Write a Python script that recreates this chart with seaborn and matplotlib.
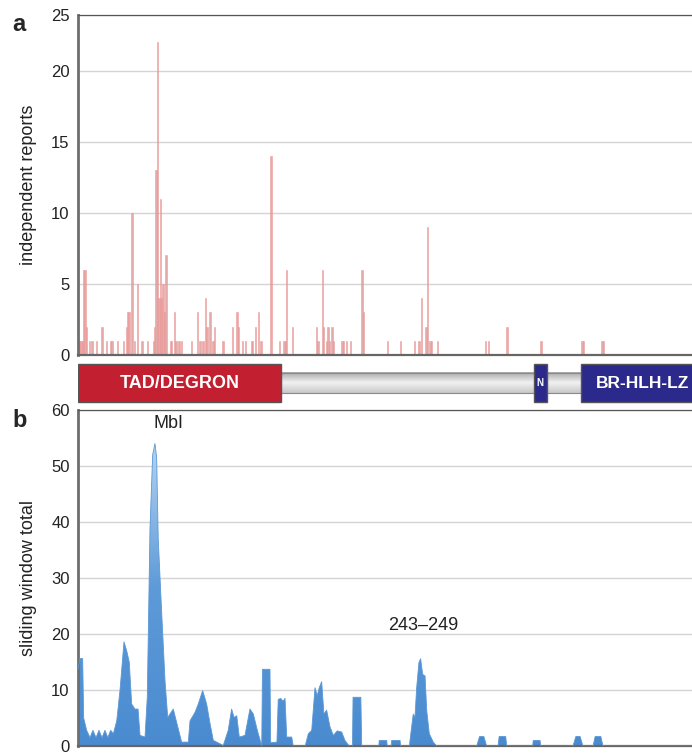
import numpy as np
import pandas as pd
import matplotlib
matplotlib.use("Agg")
import matplotlib.pyplot as plt
import seaborn as sns
from matplotlib.patches import Rectangle, Polygon
from matplotlib.colors import LinearSegmentedColormap

# -------- SETTINGS --------
sns.set_theme(style="white")
plt.rcParams["font.family"] = ["Liberation Sans", "DejaVu Sans"]

# -------- DATA --------
# panel a: independent reports per residue
residues = [1, 2, 3, 4, 5, 6, 8, 10, 13, 17, 20, 23, 24, 28, 32, 34, 35, 36, 38, 40,
            42, 45, 49, 53, 54, 55, 56, 57, 58, 59, 60, 61, 62, 65, 66, 68, 69, 71, 73, 80,
            84, 86, 88, 90, 91, 93, 95, 96, 102, 109, 112, 113, 116, 118, 122, 123, 125, 127, 129, 136,
            142, 145, 146, 147, 151, 168, 169, 172, 173, 175, 176, 177, 179, 180, 186, 187, 189, 192, 200, 201,
            218, 227, 237, 240, 242, 245, 246, 248, 249, 253, 287, 289, 302, 326, 355, 356, 369, 370]
reports = [1, 1, 1, 6, 6, 2, 1, 1, 1, 2, 1, 1, 1, 1, 1, 2, 3, 3, 10, 1,
           5, 1, 1, 1, 2, 13, 22, 4, 11, 4, 5, 3, 7, 1, 1, 3, 1, 1, 1, 1,
           3, 1, 1, 4, 2, 3, 1, 2, 1, 2, 3, 2, 1, 1, 1, 1, 2, 3, 1, 14,
           1, 1, 1, 6, 2, 2, 1, 6, 2, 1, 2, 1, 2, 1, 1, 1, 1, 1, 6, 3,
           1, 1, 1, 1, 4, 2, 9, 1, 1, 1, 1, 1, 2, 1, 1, 1, 1, 1]
ticks_a = [0, 5, 10, 15, 20, 23.9]
tick_labels_a = ["0", "5", "10", "15", "20", "25"]

# panel b: sliding window total (traced outline)
window_pos = [0, 1.4, 3.3, 4, 6.1, 8.5, 10.5, 12.7, 14.8, 16.9, 19, 21, 23, 24.9, 27.3, 29.6,
              32.4, 34.3, 36.1, 37.8, 40.1, 42.3, 43.7, 47.2, 48.8, 50.7, 52.6, 54.2, 55.4, 56.5,
              58.9, 61.3, 63.2, 67.1, 69.5, 73, 77.7, 78.9, 82.4, 84.7, 87.8, 90.6, 93, 95.3,
              102.3, 105.8, 108.2, 109.9, 111.8, 113.6, 117.6, 121.1, 123.5, 126.3, 129.4, 129.9,
              130.5, 135.2, 135.7, 140.1, 141, 142.7, 144.4, 145.8, 147, 150.5, 151.6, 160,
              162.2, 164.6, 166.9, 168.5, 169.9, 171.6, 173.2, 175.1, 177.5, 179.8, 182.6, 185.7,
              188, 191, 193.3, 193.7, 198.6, 199.2, 199.8, 211.8, 212.2, 217.4, 217.8, 220.5,
              220.9, 226.8, 227.2, 233.4, 233.8, 236.1, 237.3, 238.5, 240.1, 241.3, 242.7, 244.4,
              245.6, 247.4, 250.2, 252.6, 280.8, 282.8, 285.8, 287.8, 295.8, 296.6, 301.2, 301.9,
              320.2, 320.6, 325.4, 325.8, 348.6, 350.6, 353.6, 355.6, 362.7, 364.2, 368.2, 369.7, 440]
window_total = [13.7, 15.6, 15.6, 5, 2.8, 1.5, 2.8, 1.5, 2.8, 1.5, 2.8, 1.5, 2.8, 2.2, 4.5, 10,
                18.6, 17, 15, 7.5, 6.6, 6.6, 1.9, 1.6, 8.7, 38.8, 52, 54, 51.5, 37,
                24, 11.6, 5.1, 6.6, 4.2, 0.7, 0.7, 4.5, 6, 7.5, 9.9, 7.5, 4, 1,
                0.1, 2.8, 6.6, 5.1, 5.4, 1.6, 1.9, 6.6, 5.7, 2.8, 0, 13.7,
                13.7, 13.7, 0.6, 0.7, 8.3, 8.5, 8, 8.5, 1.6, 1.6, 0, 0,
                2.2, 2.8, 10.4, 9, 10.4, 11.5, 5.7, 6.4, 3.4, 1.9, 2.7, 2.5,
                1, 0, 0, 8.7, 8.7, 8.7, 0, 0, 1, 1, 0, 0,
                1, 1, 0, 0, 1, 5.7, 5.1, 10.4, 14.9, 15.6, 12.8, 12.5,
                6.3, 2.2, 0.7, 0, 0, 1.7, 1.7, 0, 0, 1.7, 1.7, 0,
                0, 1, 1, 0, 0, 1.7, 1.7, 0, 0, 1.7, 1.7, 0, 0]

# domain map (residue ranges)
domain_names = ["TAD/DEGRON", "N", "BR-HLH-LZ"]
domain_start = [1, 322, 355]
domain_end = [143, 330, 439]
domain_colors = ["#c21f30", "#2b2a8c", "#2b2a8c"]

df_a = pd.DataFrame({"residue": residues, "reports": reports})
df_b = pd.DataFrame({"residue": window_pos, "total": window_total})

# -------- FIGURE --------
fig = plt.figure(figsize=(6.92, 7.55), dpi=100)
ax_a = fig.add_axes([0.1127, 0.5298, 0.9029, 0.4503])
ax_d = fig.add_axes([0.1127, 0.4649, 0.9029, 0.0556])
ax_b = fig.add_axes([0.1127, 0.0119, 0.9029, 0.4451])

XMAX = 440


def style_axis(ax, ymax, ticks, labels):
    ax.set_xlim(0, XMAX)
    ax.set_ylim(0, ymax)
    ax.set_yticks(ticks)
    ax.set_yticklabels(labels)
    ax.set_xticks([])
    ax.yaxis.grid(True, color="#d4d4d4", linewidth=1.0)
    ax.set_axisbelow(True)
    for side in ["left", "top", "bottom"]:
        ax.spines[side].set_visible(True)
    ax.spines["left"].set_color("#6e6e6e")
    ax.spines["left"].set_linewidth(2.0)
    ax.spines["top"].set_color("#555555")
    ax.spines["top"].set_linewidth(0.9)
    ax.spines["bottom"].set_color("#666666")
    ax.spines["bottom"].set_linewidth(1.6)
    ax.spines["right"].set_visible(False)
    ax.tick_params(axis="y", length=0, pad=6, labelsize=12, labelcolor="#222222")
    ax.set_xlabel("")


# ===============================
# a. INDEPENDENT REPORTS
# ===============================
sns.barplot(data=df_a, x="residue", y="reports", native_scale=True, width=1.0,
            color="#e98282", alpha=0.75, errorbar=None, linewidth=0.5,
            edgecolor="#ee9a9a", ax=ax_a)
style_axis(ax_a, 23.9, ticks_a, tick_labels_a)
ax_a.set_ylabel("independent reports", fontsize=13, color="#222222", labelpad=10)
fig.text(0.018, 0.968, "a", fontsize=17, fontweight="bold", va="center")

# ===============================
# DOMAIN MAP
# ===============================
ax_d.set_xlim(0, XMAX)
ax_d.set_ylim(0, 1)
ax_d.axis("off")
grey = LinearSegmentedColormap.from_list("g", ["#a9a9a9", "#f2f2f2", "#c8c8c8"])
ax_d.imshow(np.linspace(0, 1, 50).reshape(-1, 1), cmap=grey, aspect="auto",
            extent=(domain_end[0], domain_start[2], 0.26, 0.74), zorder=1)
ax_d.add_patch(Rectangle((domain_end[0], 0.26), domain_start[2] - domain_end[0], 0.48,
                         fill=False, edgecolor="#8a8a8a", linewidth=0.8, zorder=2))
for name, s, e, c in zip(domain_names, domain_start, domain_end, domain_colors):
    ax_d.add_patch(Rectangle((s - 1, 0.05), e - s + 1, 0.9, facecolor=c,
                             edgecolor="#555555", linewidth=1.0, zorder=3))
    if name == "BR-HLH-LZ":
        ax_d.text(s + 10, 0.5, name, color="white", fontsize=12.5, fontweight="bold",
                  ha="left", va="center", zorder=4)
    else:
        ax_d.text((s - 1 + e) / 2, 0.5, name, color="white",
                  fontsize=7 if name == "N" else 13, fontweight="bold",
                  ha="center", va="center", zorder=4)

# ===============================
# b. SLIDING WINDOW TOTAL
# ===============================
style_axis(ax_b, 60, np.arange(0, 61, 10), [str(v) for v in range(0, 61, 10)])
sns.lineplot(data=df_b, x="residue", y="total", color="#5b98d6", linewidth=0.6,
             ax=ax_b, zorder=3)
verts = list(zip(df_b["residue"], df_b["total"])) + [(XMAX, 0), (0, 0)]
area = Polygon(verts, closed=True, facecolor="none", edgecolor="none")
ax_b.add_patch(area)
blue = LinearSegmentedColormap.from_list("b", ["#4a8bd0", "#5d9ad8", "#b9d7f3"])
grad = ax_b.imshow(np.linspace(0, 1, 256).reshape(-1, 1), cmap=blue, origin="lower",
                   aspect="auto", extent=(0, XMAX, 0, 56), zorder=2)
grad.set_clip_path(area)
style_axis(ax_b, 60, np.arange(0, 61, 10), [str(v) for v in range(0, 61, 10)])
ax_b.set_ylabel("sliding window total", fontsize=13, color="#222222", labelpad=10)
ax_b.text(64, 57.5, "MbI", fontsize=13, color="#222222", ha="center", va="center")
ax_b.text(243, 21.5, "243\u2013249", fontsize=13, color="#222222", ha="center", va="center")
fig.text(0.018, 0.443, "b", fontsize=17, fontweight="bold", va="center")

fig.savefig("out.png", dpi=100)
